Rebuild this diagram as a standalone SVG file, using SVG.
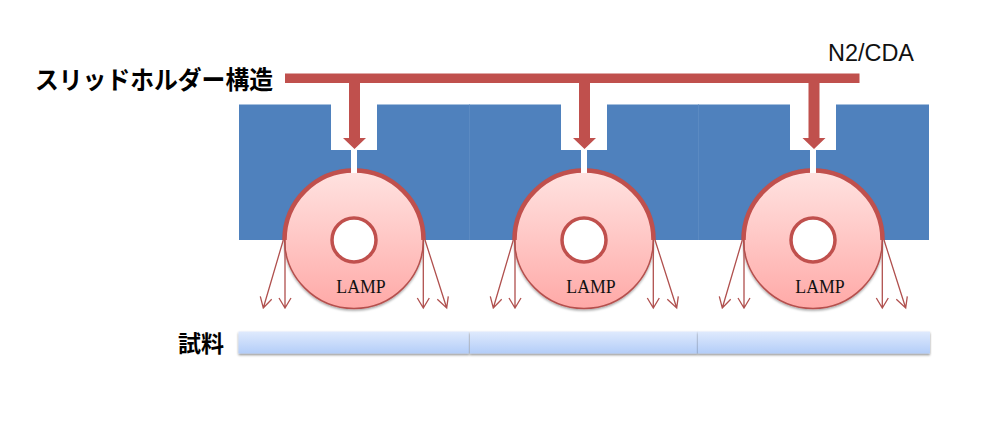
<svg xmlns="http://www.w3.org/2000/svg" width="1000" height="427" viewBox="0 0 1000 427">
<style>
.blue{fill:#4f81bd}
.seam{stroke:#5b8ac2;stroke-width:1}
.notch{fill:#fff}
.red{fill:#c0504d}
.lamp{fill:url(#lampFill);stroke:#b5504d;stroke-width:1.5}
.arc{fill:none;stroke:#c0504d;stroke-width:4.500}
.hole{fill:#fff;stroke:#c0504d;stroke-width:3.500}
.ray{fill:none;stroke:#b0504e;stroke-width:1.300}
.lbl{font-family:"Liberation Serif",serif;font-size:17.800px;fill:#111}
.jp{font-family:"Liberation Sans","Noto Sans CJK JP",sans-serif;font-weight:700;fill:#000}
.sample{fill:url(#sampleFill);filter:url(#shadow)}
</style>
<defs>
<linearGradient id="lampFill" x1="0" y1="0" x2="0" y2="1"><stop offset="0" stop-color="#ffe3e1"/><stop offset="0.55" stop-color="#ffc4c2"/><stop offset="1" stop-color="#ffa9a7"/></linearGradient>
<linearGradient id="sampleFill" x1="0" y1="0" x2="0" y2="1"><stop offset="0" stop-color="#dfeafd"/><stop offset="1" stop-color="#b3cdf8"/></linearGradient>
<filter id="shadow" x="-5%" y="-30%" width="110%" height="170%"><feDropShadow dx="0" dy="1.500" stdDeviation="1.200" flood-color="#000" flood-opacity="0.450"/></filter>
<filter id="lampShadow" x="-10%" y="-10%" width="120%" height="120%"><feDropShadow dx="0" dy="1.500" stdDeviation="1.200" flood-color="#000" flood-opacity="0.350"/></filter>
<g id="lampShape">
<circle cx="0" cy="0" r="69.500" class="lamp" filter="url(#lampShadow)"/>
<path d="M-69.500 1A69.500 69.500 0 0 1 69.500 1" class="arc"/>
<circle cx="0" cy="1" r="22" class="hole"/>
<rect x="-3" y="-74" width="6" height="8" fill="#fff"/>
<text x="7" y="53.500" text-anchor="middle" class="lbl">LAMP</text>
<path d="M-70.700 1L-90.700 69M-93.700 57.300L-90.700 69L-82.300 60.300M-69 1V69M-75 59L-69 69L-63 59M69.300 1V69M63.300 59L69.300 69L75.300 59M71 1L92.700 69M83.300 60.300L92.700 69L94.300 57.300" class="ray"/>
</g>
<g id="feed">
<path d="M-5.500 83H5.500V138H11.500L0 149L-11.500 138H-5.500Z" class="red"/>
</g>
</defs>
<g id="block">
<rect x="239" y="104.500" width="690" height="135.500" class="blue"/>
<path d="M469.500 104.500V240M698.500 104.500V240" class="seam"/>
</g>
<g id="notches">
<path d="M331 104H377V150H357V172H351V150H331Z" class="notch"/>
<path d="M561 104H607V150H587V172H581V150H561Z" class="notch"/>
<path d="M790 104H836V150H816V172H810V150H790Z" class="notch"/>
</g>
<g id="lamp1" transform="translate(354 239)"><use href="#lampShape"/></g>
<g id="lamp2" transform="translate(584 239)"><use href="#lampShape"/></g>
<g id="lamp3" transform="translate(813 239)"><use href="#lampShape"/></g>
<g id="connectors">
<rect x="285" y="73.500" width="574.500" height="9.500" class="red"/>
<use href="#feed" transform="translate(354.500 0)"/>
<use href="#feed" transform="translate(584.500 0)"/>
<use href="#feed" transform="translate(814 0)"/>
</g>
<g id="sample">
<rect x="238.500" y="331.500" width="231" height="22" class="sample"/>
<rect x="470" y="331.500" width="228" height="22" class="sample"/>
<rect x="698" y="331.500" width="232" height="22" class="sample"/>
</g>
<g id="labels">
<text x="35" y="89" class="jp" font-size="25" textLength="238" lengthAdjust="spacingAndGlyphs">スリッドホルダー構造</text>
<text x="178" y="352" class="jp" font-size="23">試料</text>
<text x="828" y="61" font-family="'Liberation Sans',sans-serif" font-size="23" fill="#111" textLength="86" lengthAdjust="spacingAndGlyphs">N2/CDA</text>
</g>
</svg>
